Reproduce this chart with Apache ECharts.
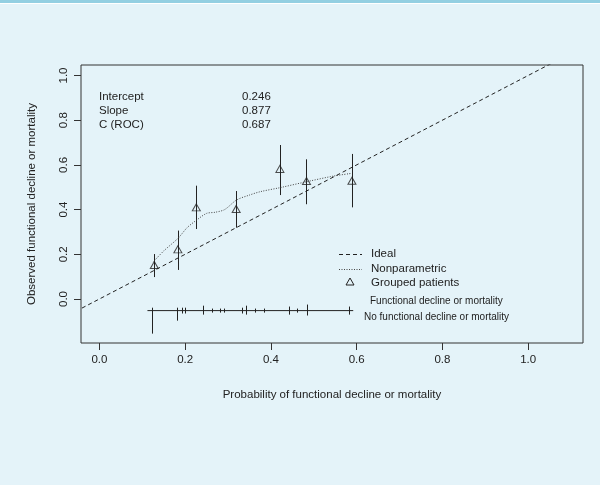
<!DOCTYPE html>
<html>
<head>
<meta charset="utf-8">
<script src="https://cdn.jsdelivr.net/npm/echarts@6/dist/echarts.min.js"></script>
<style>
html,body{margin:0;padding:0;background:#e4f3f9;}
#c{width:600px;height:485px;}
</style>
</head>
<body>
<div id="c"></div>
<script>
// ---- data ----
var xTicks = [0, 0.2, 0.4, 0.6, 0.8, 1.0];
var yTicks = [0, 0.2, 0.4, 0.6, 0.8, 1.0];
var xTitle = 'Probability of functional decline or mortality';
var yTitle = 'Observed functional decline or mortality';

var statLabels = ['Intercept', 'Slope', 'C (ROC)'];
var statValues = ['0.246', '0.877', '0.687'];

var idealX = [-0.2, 1.3];
var idealY = [-0.2, 1.3];

var lowessX = [0.125, 0.150, 0.183, 0.205, 0.226, 0.250, 0.270, 0.292, 0.320, 0.350, 0.375, 0.421, 0.484, 0.546, 0.588];
var lowessY = [0.165, 0.215, 0.271, 0.320, 0.352, 0.383, 0.388, 0.400, 0.443, 0.465, 0.480, 0.498, 0.525, 0.550, 0.562];

var groupX  = [0.128, 0.183, 0.226, 0.319, 0.421, 0.483, 0.589];
var groupY  = [0.152, 0.222, 0.410, 0.403, 0.582, 0.528, 0.529];
var groupLo = [0.098, 0.130, 0.313, 0.319, 0.465, 0.424, 0.410];
var groupHi = [0.201, 0.306, 0.507, 0.483, 0.689, 0.625, 0.649];

var rugBase  = -0.052;
var rugRange = [0.112, 0.592];
var rugX    = [0.122, 0.181, 0.192, 0.200, 0.241, 0.262, 0.281, 0.291, 0.332, 0.342, 0.363, 0.383, 0.443, 0.462, 0.484, 0.583];
var rugUp   = [0.013, 0.013, 0.013, 0.013, 0.022, 0.009, 0.009, 0.009, 0.013, 0.022, 0.009, 0.009, 0.018, 0.009, 0.027, 0.018];
var rugDown = [0.103, 0.045, 0.013, 0.013, 0.018, 0.009, 0.009, 0.009, 0.013, 0.018, 0.009, 0.009, 0.018, 0.009, 0.022, 0.018];

var legendLabels = ['Ideal', 'Nonparametric', 'Grouped patients'];
var rugLabels = ['Functional decline or mortality', 'No functional decline or mortality'];

// ---- chart ----
var FONT = '"Liberation Sans", Arial, sans-serif';
var INK = '#222';
var chart = echarts.init(document.getElementById('c'), null, {renderer: 'canvas'});

function zip(a, b) { return a.map(function (v, i) { return [v, b[i]]; }); }

var graphics = [
  {type: 'rect', left: 0, top: 0, shape: {width: 600, height: 3}, style: {fill: '#93cfe2'}, z: 100},
  {type: 'rect', left: 0, top: 3, shape: {width: 600, height: 1}, style: {fill: '#ffffff'}, z: 100},
  {type: 'text', x: 332, y: 395, style: {text: xTitle, font: '11.5px ' + FONT, fill: INK, textAlign: 'center', textVerticalAlign: 'middle'}},
  {type: 'text', x: 32, y: 204, rotation: Math.PI / 2, style: {text: yTitle, font: '11.5px ' + FONT, fill: INK, textAlign: 'center', textVerticalAlign: 'middle'}}
];
statLabels.forEach(function (s, i) {
  graphics.push({type: 'text', x: 99, y: 97 + i * 14, style: {text: s, font: '11.5px ' + FONT, fill: INK, textVerticalAlign: 'middle'}});
  graphics.push({type: 'text', x: 242, y: 97 + i * 14, style: {text: statValues[i], font: '11.5px ' + FONT, fill: INK, textVerticalAlign: 'middle'}});
});
// legend
graphics.push({type: 'line', shape: {x1: 339, y1: 254.5, x2: 362, y2: 254.5}, style: {stroke: INK, lineWidth: 1, lineDash: [4, 3]}});
graphics.push({type: 'line', shape: {x1: 339, y1: 269.5, x2: 362, y2: 269.5}, style: {stroke: '#444', lineWidth: 1, lineDash: [1, 1.5]}});
graphics.push({type: 'polygon', shape: {points: [[350, 278], [346, 285], [354, 285]]}, style: {stroke: INK, fill: 'none', lineWidth: 1}});
legendLabels.forEach(function (s, i) {
  graphics.push({type: 'text', x: 371, y: 254 + i * 14.5, style: {text: s, font: '11.5px ' + FONT, fill: INK, textVerticalAlign: 'middle'}});
});
graphics.push({type: 'text', x: 370, y: 301, style: {text: rugLabels[0], font: '10px ' + FONT, fill: INK, textVerticalAlign: 'middle'}});
graphics.push({type: 'text', x: 364, y: 317, style: {text: rugLabels[1], font: '10px ' + FONT, fill: INK, textVerticalAlign: 'middle'}});

var option = {
  backgroundColor: '#e4f3f9',
  animation: false,
  grid: {left: 81, right: 17, top: 65, bottom: 142, show: true, borderColor: '#333', borderWidth: 1, backgroundColor: 'transparent'},
  xAxis: {
    type: 'value', min: -0.043, max: 1.128, position: 'bottom',
    axisLine: {show: false, onZero: false},
    splitLine: {show: false},
    axisTick: {show: true, length: 7, lineStyle: {color: '#333'}, customValues: xTicks},
    axisLabel: {customValues: xTicks, margin: 11, fontSize: 11.5, fontFamily: FONT, color: INK,
      formatter: function (v) { return v.toFixed(1); }}
  },
  yAxis: {
    type: 'value', min: -0.197, max: 1.047, position: 'left',
    axisLine: {show: false, onZero: false},
    splitLine: {show: false},
    axisTick: {show: true, length: 7, lineStyle: {color: '#333'}, customValues: yTicks},
    axisLabel: {customValues: yTicks, margin: 11, rotate: 90, fontSize: 11.5, fontFamily: FONT, color: INK,
      formatter: function (v) { return v.toFixed(1); }}
  },
  graphic: graphics,
  series: [
    {
      name: 'Ideal', type: 'line', data: zip(idealX, idealY), symbol: 'none', clip: true,
      lineStyle: {color: INK, width: 1, type: [4, 3]}
    },
    {
      name: 'Nonparametric', type: 'line', data: zip(lowessX, lowessY), symbol: 'none', smooth: 0.3,
      lineStyle: {color: '#444', width: 1, type: [1, 1.5]}
    },
    {
      name: 'Error bars', type: 'custom',
      data: groupX.map(function (x, i) { return [x, groupLo[i], groupHi[i]]; }),
      renderItem: function (params, api) {
        var a = api.coord([api.value(0), api.value(1)]);
        var b = api.coord([api.value(0), api.value(2)]);
        return {type: 'line', shape: {x1: Math.round(a[0]) + 0.5, y1: a[1], x2: Math.round(b[0]) + 0.5, y2: b[1]}, style: {stroke: INK, lineWidth: 1}};
      }
    },
    {
      name: 'Grouped patients', type: 'scatter', data: zip(groupX, groupY),
      symbol: 'triangle', symbolSize: [8, 7],
      itemStyle: {color: 'rgba(0,0,0,0)', borderColor: INK, borderWidth: 1}
    },
    {
      name: 'Rug base', type: 'line', data: [[rugRange[0], rugBase], [rugRange[1], rugBase]], symbol: 'none',
      lineStyle: {color: INK, width: 1}
    },
    {
      name: 'Rug', type: 'custom',
      data: rugX.map(function (x, i) { return [x, rugUp[i], rugDown[i]]; }),
      renderItem: function (params, api) {
        var x = api.value(0);
        var a = api.coord([x, rugBase + api.value(1)]);
        var b = api.coord([x, rugBase - api.value(2)]);
        return {type: 'line', shape: {x1: Math.round(a[0]) + 0.5, y1: a[1], x2: Math.round(b[0]) + 0.5, y2: b[1]}, style: {stroke: INK, lineWidth: 1}};
      }
    }
  ]
};
chart.setOption(option);
</script>
</body>
</html>
